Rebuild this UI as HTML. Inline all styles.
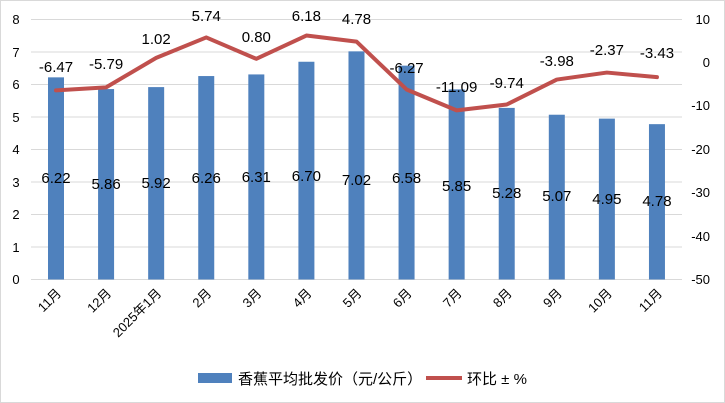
<!DOCTYPE html>
<html><head><meta charset="utf-8"><style>
html,body{margin:0;padding:0;background:#fff;}
svg{display:block;font-family:"Liberation Sans","Noto Sans CJK SC",sans-serif;}
</style></head><body>
<svg width="725" height="403" viewBox="0 0 725 403" xmlns="http://www.w3.org/2000/svg">
<rect x="0.5" y="0.5" width="724" height="402" fill="#fff" stroke="#d9d9d9"/>
<g stroke="#d9d9d9" stroke-width="1">
<line x1="31" x2="682" y1="19.5" y2="19.5"/><line x1="31" x2="682" y1="52" y2="52"/>
<line x1="31" x2="682" y1="84.5" y2="84.5"/><line x1="31" x2="682" y1="117" y2="117"/>
<line x1="31" x2="682" y1="149.5" y2="149.5"/><line x1="31" x2="682" y1="182" y2="182"/>
<line x1="31" x2="682" y1="214.5" y2="214.5"/><line x1="31" x2="682" y1="247" y2="247"/>
<line x1="31" x2="682" y1="279.5" y2="279.5"/>
</g>
<g font-size="13" fill="#000" text-anchor="middle">
<text x="16" y="24">8</text><text x="16" y="57">7</text><text x="16" y="89">6</text><text x="16" y="122">5</text><text x="16" y="154">4</text><text x="16" y="187">3</text><text x="16" y="219">2</text><text x="16" y="252">1</text><text x="16" y="284">0</text>
</g>
<g font-size="13" fill="#000" text-anchor="end">
<text x="710" y="24">10</text><text x="710" y="67">0</text><text x="710" y="110">-10</text><text x="710" y="154">-20</text><text x="710" y="197">-30</text><text x="710" y="241">-40</text><text x="710" y="284">-50</text>
</g>
<g fill="#4f81bd" id="bars"></g>
<polyline id="ln" fill="none" stroke="#c0504d" stroke-width="4" stroke-linejoin="round" stroke-linecap="round"/>
<g id="lbl" font-size="15" fill="#000" text-anchor="middle"></g>
<g id="xl" font-size="13" fill="#000" text-anchor="end"></g>
<rect x="198" y="373" width="34" height="10" fill="#4f81bd"/>
<text x="238" y="384" font-size="15">香蕉平均批发价（元/公斤）</text>
<line x1="426" x2="462" y1="378" y2="378" stroke="#c0504d" stroke-width="4"/>
<text x="467" y="384" font-size="15">环比 ± %</text>
<script>
var cats=["11月","12月","2025年1月","2月","3月","4月","5月","6月","7月","8月","9月","10月","11月"];
var bv=[6.22,5.86,5.92,6.26,6.31,6.70,7.02,6.58,5.85,5.28,5.07,4.95,4.78];
var pv=[-6.47,-5.79,1.02,5.74,0.80,6.18,4.78,-6.27,-11.09,-9.74,-3.98,-2.37,-3.43];
var by=[178,184,183,178,177,176,180,178,186,193,196,199,201];
var py=[67,64,39,16,37,16,19,68,87,83,61,50,53];
var ns="http://www.w3.org/2000/svg";
function el(t,a,p,txt){var e=document.createElementNS(ns,t);for(var k in a)e.setAttribute(k,a[k]);if(txt)e.textContent=txt;document.getElementById(p).appendChild(e);}
var pts=[];
for(var i=0;i<13;i++){var cx=56+50.08*i;var h=bv[i]*32.5;
el("rect",{x:cx-8,y:279.5-h,width:16,height:h},"bars");
pts.push(cx+","+(62.3-pv[i]*4.333));
el("text",{x:cx,y:by[i]+5},"lbl",bv[i].toFixed(2));
el("text",{x:cx,y:py[i]+5},"lbl",pv[i].toFixed(2));
el("text",{x:cx+6,y:294,transform:"rotate(-45 "+(cx+6)+" 294)"},"xl",cats[i]);}
document.getElementById("ln").setAttribute("points",pts.join(" "));
</script>
</svg>
</body></html>
